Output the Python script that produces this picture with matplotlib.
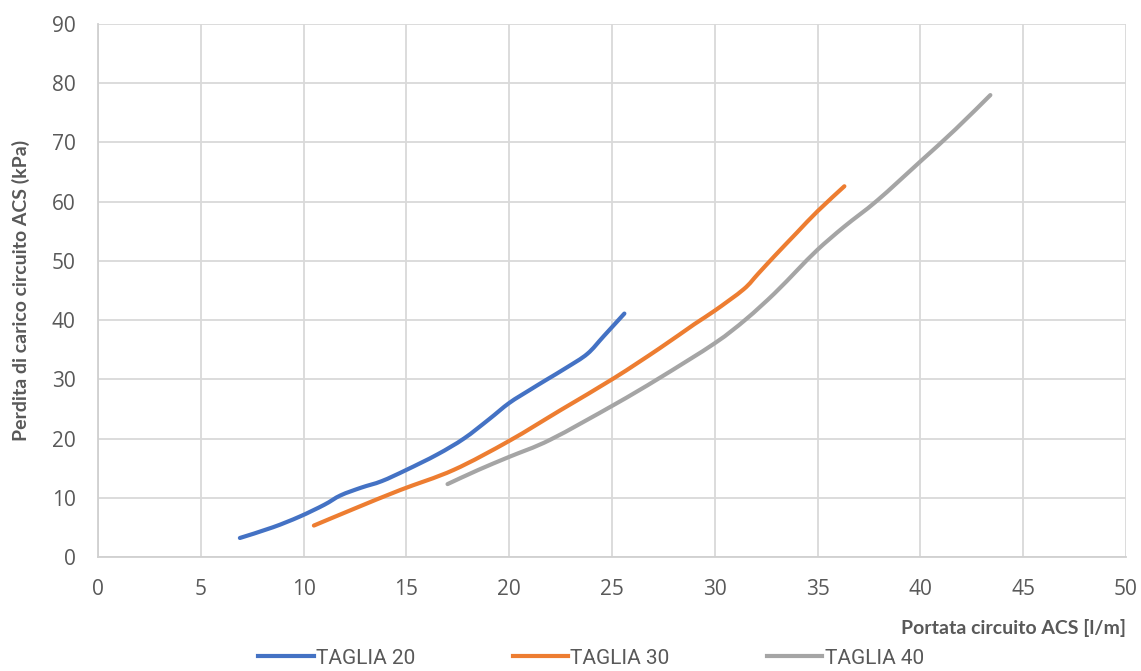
import numpy as np
import matplotlib
matplotlib.use("Agg")
import matplotlib.pyplot as plt
from matplotlib.path import Path
from matplotlib.patches import PathPatch
from matplotlib.lines import Line2D

# Dati (portata l/m, perdita di carico kPa)
x_t20 = [6.9, 8.5, 9.8, 11.0, 11.8, 12.8, 13.8, 15.0, 16.5, 17.8, 19.0, 20.0, 21.0, 21.8, 22.8, 23.8, 24.6, 25.6]
y_t20 = [3.2, 5.0, 6.8, 8.8, 10.4, 11.7, 12.8, 14.7, 17.3, 20.0, 23.2, 26.0, 28.2, 29.9, 32.0, 34.3, 37.3, 41.1]

x_t30 = [10.5, 12.5, 14.7, 17.3, 20.0, 22.5, 25.1, 27.3, 29.0, 30.0, 31.4, 32.1, 32.9, 34.0, 35.0, 36.3]
y_t30 = [5.3, 8.2, 11.3, 14.7, 19.6, 24.8, 30.2, 35.2, 39.3, 41.6, 45.2, 47.8, 50.8, 54.8, 58.4, 62.6]

x_t40 = [17.0, 18.5, 20.0, 22.0, 25.1, 27.3, 30.0, 31.5, 32.9, 34.0, 35.0, 36.3, 37.9, 40.0, 41.7, 43.4]
y_t40 = [12.3, 14.7, 16.9, 19.8, 25.7, 30.2, 36.1, 40.1, 44.5, 48.4, 51.9, 55.8, 60.2, 66.8, 72.2, 78.0]

series = [("TAGLIA 20", x_t20, y_t20, "#4472C4"),
          ("TAGLIA 30", x_t30, y_t30, "#ED7D31"),
          ("TAGLIA 40", x_t40, y_t40, "#A5A5A5")]

x_ticks = np.arange(0, 51, 5)
y_ticks = np.arange(0, 91, 10)

tick_col = "#595959"


def smooth_path(xs, ys):
    # linea smussata stile Excel (Bezier cubiche tra i punti)
    p = np.column_stack([xs, ys]).astype(float)
    n = len(p)
    verts = [p[0]]
    codes = [Path.MOVETO]
    for i in range(n - 1):
        p0 = p[i - 1] if i > 0 else p[i]
        p1 = p[i]
        p2 = p[i + 1]
        p3 = p[i + 2] if i + 2 < n else p[i + 1]
        c1 = p1 + (p2 - p0) / 6.0
        c2 = p2 - (p3 - p1) / 6.0
        verts += [c1, c2, p2]
        codes += [Path.CURVE4] * 3
    return Path(verts, codes)


fig = plt.figure(figsize=(11.41, 6.71), dpi=100)
ax = fig.add_axes([0.0859, 0.170, 0.9010, 0.7942])

handles = []
for name, xs, ys, col in series:
    ax.add_patch(PathPatch(smooth_path(xs, ys), facecolor="none", edgecolor=col, lw=3,
                           capstyle="round", joinstyle="round"))
    handles.append(Line2D([], [], color=col, lw=3, label=name))

ax.set_xlim(0, 50)
ax.set_ylim(0, 90)
ax.set_xticks(x_ticks)
ax.set_yticks(y_ticks)
ax.grid(True, color="#d9d9d9", lw=1.3)
ax.set_axisbelow(True)
for s in ["top", "right"]:
    ax.spines[s].set_visible(False)
for s in ["left", "bottom"]:
    ax.spines[s].set_color("#d0d0d0")
    ax.spines[s].set_linewidth(1.3)
ax.tick_params(length=0, labelsize=15, labelcolor=tick_col)
ax.tick_params(axis="x", pad=16)
ax.tick_params(axis="y", pad=16)
for lab in ax.get_xticklabels() + ax.get_yticklabels():
    lab.set_family("Open Sans")

ax.set_ylabel("Perdita di carico circuito ACS (kPa)", fontsize=14, fontweight="bold",
              color=tick_col, family="Lato", labelpad=16)
fig.text(0.9869, 1 - 628 / 671, "Portata circuito ACS [l/m]", ha="right", va="center",
         fontsize=14, fontweight="bold", color=tick_col, family="Lato")

leg = fig.legend(handles=handles, loc="center", bbox_to_anchor=(0.518, 1 - 658 / 671), ncol=3,
                 frameon=False, handlelength=2.65, handletextpad=0.1, columnspacing=4.7,
                 prop={"family": "Roboto", "size": 15})
for t in leg.get_texts():
    t.set_color(tick_col)

fig.savefig("out.png", dpi=100)
